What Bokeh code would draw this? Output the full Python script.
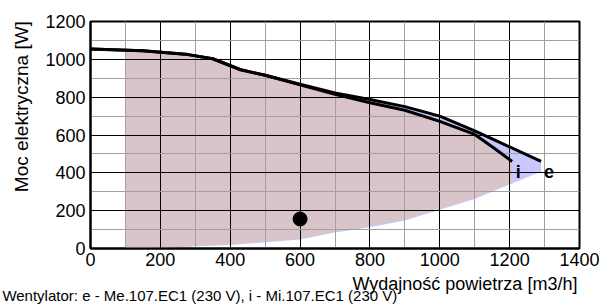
import numpy as np
from bokeh.plotting import figure
from bokeh.models import Label, SingleIntervalTicker, Range1d, LinearAxis, FixedTicker
from bokeh.embed import file_html
from bokeh.resources import INLINE

# curve e (Me.107.EC1) and i (Mi.107.EC1): power vs airflow
flow_e = [0, 150, 280, 350, 430, 500, 600, 700, 800, 900, 1000, 1100, 1150, 1290]
power_e = [1055, 1045, 1025, 1003, 945, 916, 868, 822, 788, 750, 700, 622, 580, 460]
flow_i = [0, 150, 280, 350, 430, 500, 600, 700, 800, 900, 1000, 1100, 1150, 1207]
power_i = [1055, 1045, 1025, 1003, 945, 916, 866, 815, 770, 731, 672, 603, 538, 460]

# lower limits of the working areas
flow_i_min = [100, 240, 400, 600, 700, 800, 900, 1000, 1100, 1207]
power_i_min = [2, 9, 21, 52, 88, 117, 153, 210, 267, 349]
flow_e_min = [100, 240, 400, 600, 700, 800, 900, 1000, 1100, 1207, 1290]
power_e_min = [0, 7, 18, 48, 84, 112, 148, 205, 262, 344, 407]

point_flow = [600]
point_power = [156]

x_ticks_interval = 200
y_ticks_interval = 200

x_title = "Wydajność powietrza [m3/h]"
y_title = "Moc elektryczna [W]"
caption = "Wentylator: e - Me.107.EC1 (230 V), i - Mi.107.EC1 (230 V)"

FONT = "Liberation Sans"

W, H = 603, 306
p = figure(width=W, height=H, output_backend="svg", toolbar_location=None,
           x_range=Range1d(0, 1400), y_range=Range1d(0, 1200),
           min_border_left=90, min_border_right=W - 579, min_border_top=21, min_border_bottom=H - 249)
p.background_fill_color = "white"
p.border_fill_color = "white"

def area(fx, fy, bx, by, xstart):
    top_x = [xstart] + [x for x in fx if x > xstart]
    top_y = [float(np.interp(xstart, fx, fy))] + [y for x, y in zip(fx, fy) if x > xstart]
    xs = top_x + list(bx[::-1])
    ys = top_y + list(by[::-1])
    return xs, ys

ex, ey = area(flow_e, power_e, flow_e_min, power_e_min, 100)
ix, iy = area(flow_i, power_i, flow_i_min, power_i_min, 100)

r1 = p.patch(ex, ey, fill_color="#c8c8ff", line_color=None)
r1.level = "image"
r2 = p.patch(ix, iy, fill_color="#d9c4ca", line_color=None)
r2.level = "image"

p.line(flow_i, power_i, line_color="black", line_width=3)
p.line(flow_e, power_e, line_color="black", line_width=3)
p.scatter(point_flow, point_power, size=14, color="black")

p.add_layout(Label(x=1225, y=407, text="i", text_font=FONT, text_font_size="18px", text_color="black",
                   text_font_style="bold", text_align="center", text_baseline="middle"))
p.add_layout(Label(x=1313, y=407, text="e", text_font=FONT, text_font_size="18px", text_color="black",
                   text_font_style="bold", text_align="center", text_baseline="middle"))

def plain(ax, size):
    ax.major_tick_out = 0
    ax.major_tick_in = 0
    ax.minor_tick_out = 0
    ax.minor_tick_in = 0
    ax.major_label_text_font = FONT
    ax.major_label_text_font_size = size
    ax.major_label_text_color = "black"

for ax in (p.xaxis, p.yaxis):
    plain(ax, "18px")
    ax.axis_line_width = 2
    ax.axis_line_color = "black"
p.xaxis.ticker = SingleIntervalTicker(interval=x_ticks_interval, num_minor_ticks=2)
p.yaxis.ticker = SingleIntervalTicker(interval=y_ticks_interval, num_minor_ticks=2)
p.xaxis.major_label_standoff = 4
p.yaxis.major_label_standoff = 5

p.xgrid.ticker = p.xaxis.ticker
p.ygrid.ticker = p.yaxis.ticker
for g in (p.xgrid, p.ygrid):
    g.grid_line_color = "black"
    g.grid_line_width = 1
    g.minor_grid_line_color = "#a0a0a0"
    g.minor_grid_line_width = 1

p.outline_line_color = "black"
p.outline_line_width = 2

# titles and caption as label-only extra axes (text placed at a fixed tick)
xt_pos = 1072
cap_pos = 313
yt_pos = 750
ax_t = LinearAxis(ticker=FixedTicker(ticks=[xt_pos]), major_label_overrides={xt_pos: x_title},
                  axis_line_color=None, major_label_standoff=5)
plain(ax_t, "18px")
p.add_layout(ax_t, "below")
ax_c = LinearAxis(ticker=FixedTicker(ticks=[cap_pos]), major_label_overrides={cap_pos: caption},
                  axis_line_color=None, major_label_standoff=-10)
plain(ax_c, "15px")
p.add_layout(ax_c, "below")
ax_y = LinearAxis(ticker=FixedTicker(ticks=[yt_pos]), major_label_overrides={yt_pos: y_title},
                  axis_line_color=None, major_label_standoff=11, major_label_orientation="vertical")
plain(ax_y, "19px")
p.add_layout(ax_y, "left")

open("out.html", "w").write(file_html(p, INLINE))
